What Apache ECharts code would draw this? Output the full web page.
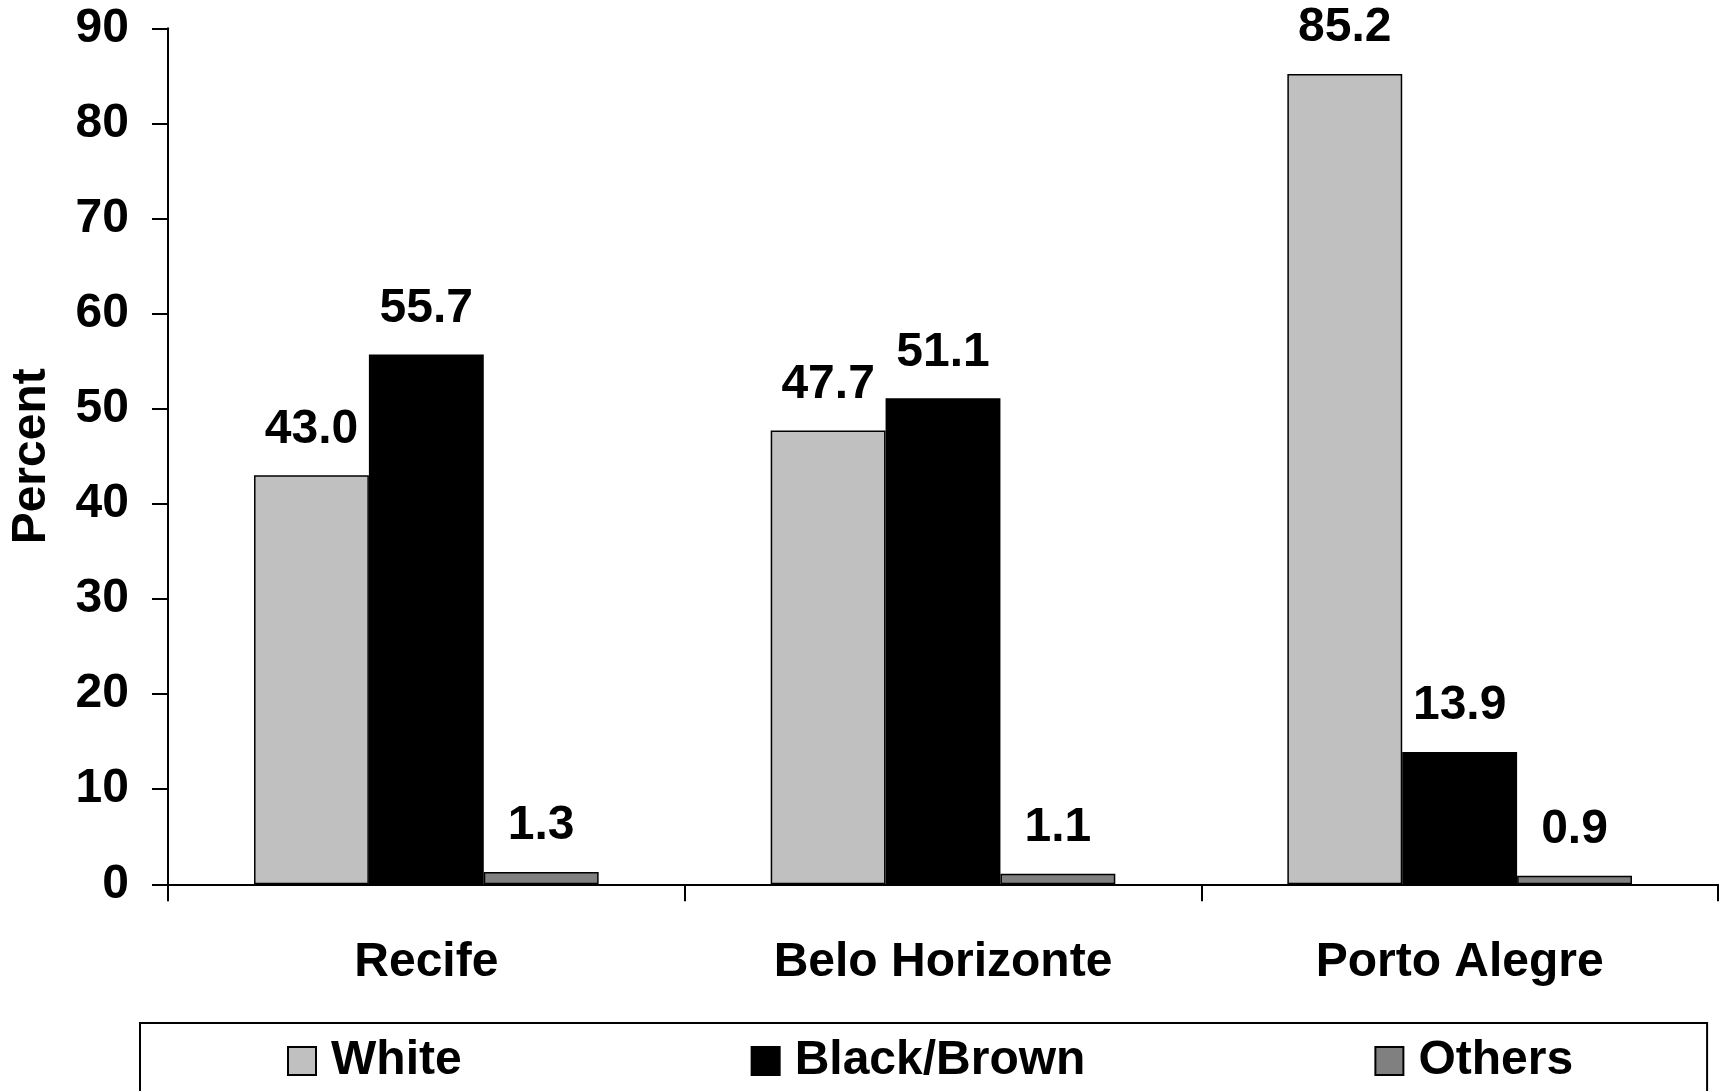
<!DOCTYPE html>
<html>
<head>
<meta charset="utf-8">
<script src="https://cdn.jsdelivr.net/npm/echarts@6/dist/echarts.min.js"></script>
<style>html,body{margin:0;padding:0;background:#fff;}#c{width:1721px;height:1091px;}</style>
</head>
<body>
<div id="c"></div>
<script>
var categories = ['Recife', 'Belo Horizonte', 'Porto Alegre'];
var seriesNames = ['White', 'Black/Brown', 'Others'];
var whiteValues = [43.0, 47.7, 85.2];
var blackBrownValues = [55.7, 51.1, 13.9];
var othersValues = [1.3, 1.1, 0.9];
var yTicks = { min: 0, max: 90, interval: 10 };

var FONT = "'Liberation Sans', Arial, Helvetica, sans-serif";
var FS = 48;
var colors = ['#c0c0c0', '#000000', '#808080'];
var valueSets = [whiteValues, blackBrownValues, othersValues];

var chart = echarts.init(document.getElementById('c'), null, { renderer: 'canvas' });
chart.setOption({
  animation: false,
  backgroundColor: '#ffffff',
  grid: { left: 168, right: 3, top: 28.3, bottom: 206.7, containLabel: false },
  legend: {
    data: seriesNames,
    left: 140,
    top: 1023,
    orient: 'horizontal',
    padding: [14, 134, 60, 147],
    itemGap: 289,
    itemWidth: 28,
    itemHeight: 28,
    icon: 'rect',
    borderColor: '#000',
    borderWidth: 2,
    textStyle: { fontFamily: FONT, fontWeight: 'bold', fontSize: FS, color: '#000', padding: [0, 0, 0, 10] }
  },
  xAxis: {
    type: 'category',
    data: categories,
    axisLine: { lineStyle: { color: '#000', width: 2 } },
    axisTick: { show: true, length: 17, lineStyle: { color: '#000', width: 2 } },
    axisLabel: { margin: 54, fontFamily: FONT, fontWeight: 'bold', fontSize: FS, color: '#000' },
    splitLine: { show: false }
  },
  yAxis: {
    type: 'value',
    min: yTicks.min,
    max: yTicks.max,
    interval: yTicks.interval,
    name: 'Percent',
    nameLocation: 'middle',
    nameGap: 112,
    nameTextStyle: { fontFamily: FONT, fontWeight: 'bold', fontSize: FS, color: '#000' },
    axisLine: { show: true, lineStyle: { color: '#000', width: 2 } },
    axisTick: { show: true, length: 16, lineStyle: { color: '#000', width: 2 } },
    axisLabel: { margin: 39, fontFamily: FONT, fontWeight: 'bold', fontSize: FS, color: '#000' },
    splitLine: { show: false }
  },
  series: seriesNames.map(function (name, i) {
    return {
      name: name,
      type: 'bar',
      data: valueSets[i],
      barGap: '0%',
      barCategoryGap: '33.3%',
      itemStyle: { color: colors[i], borderColor: '#000', borderWidth: 1.5 },
      label: {
        show: true,
        position: 'top',
        distance: 22,
        formatter: function (p) { return p.value.toFixed(1); },
        fontFamily: FONT,
        fontWeight: 'bold',
        fontSize: FS,
        color: '#000'
      }
    };
  })
});
</script>
</body>
</html>
